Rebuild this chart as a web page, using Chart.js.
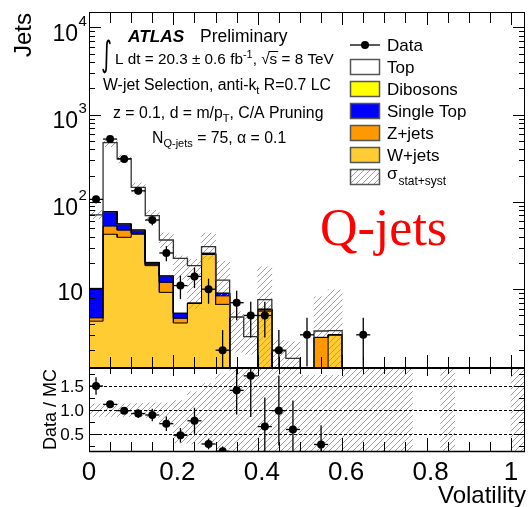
<!DOCTYPE html>
<html>
<head>
<meta charset="utf-8">
<script src="https://cdn.jsdelivr.net/npm/chart.js@4.4.1/dist/chart.umd.min.js"></script>
<style>
  html, body { margin: 0; padding: 0; background: #fff; }
  #wrap { position: relative; width: 529px; height: 507px; }
  #wrap canvas { position: absolute; left: 0; top: 0; }
</style>
</head>
<body>
<div id="wrap">
  <canvas id="ratioChart" width="529" height="507"></canvas>
  <canvas id="mainChart" width="529" height="507"></canvas>
</div>
<script>
// bins of width 1/30 on the Volatility axis
const binWidth = 1 / 30;
const nBins = 31;
const binNames = Array.from({ length: nBins }, (_, i) => 'bin' + i);

// data counts and their errors
const dataCounts = [107, 525, 311, 134, 62, 26, 11, 14, 10, 2, 7, 5, 5, 2, null, 3, null, null, null, 3,
  null, null, null, null, null, null, null, null, null, null, null];
const dataErr = [10.3, 22.9, 17.6, 11.6, 7.9, 5.1, 3.3, 3.7, 3.2, 1.4, 2.6, 2.2, 2.2, 1.4, null, 1.7, null, null, null, 1.7,
  null, null, null, null, null, null, null, null, null, null, null];

// MC components (stack order: W+jets at bottom)
const wJets = [4.3, 42.6, 39.3, 42.6, 18.6, 9.2, 4.1, 6.9, 25.0, 6.7, 0, 0, 5.6, 0, 0, 0, 0, 3.0, 0, 0,
  0, 0, 0, 0, 0, 0, 0, 0, 0, 0, 0];
const zJets = [0.4, 10.4, 8.3, 1.1, 0.7, 2.8, 0.55, 0, 0.3, 1.7, 0, 0, 0.2, 0, 0, 0, 2.8, 0, 0, 0,
  0, 0, 0, 0, 0, 0, 0, 0, 0, 0, 0];
const singleTop = [5.5, 24.0, 8.2, 3.9, 0.9, 2.2, 0.65, 0, 0.5, 0.6, 0, 0, 0.1, 0, 0, 0, 0, 0, 0, 0,
  0, 0, 0, 0, 0, 0, 0, 0, 0, 0, 0];
const dibosons = [0, 0.6, 0.4, 0.2, 0.1, 0, 0, 0, 0, 0, 0, 0, 0, 0, 0, 0, 0, 0, 0, 0,
  0, 0, 0, 0, 0, 0, 0, 0, 0, 0, 0];
const topQuark = [60.8, 400, 256, 99.2, 49.3, 22.4, 17.3, 11.7, 4.9, 3.7, 4.8, 2.86, 1.7, 1.96, 1.61, 0, 0.52, 0.35, 0.4, 0.3,
  0.5, 0.3, 0.3, 0, 0, 0.3, 0, 0, 0, 0, 0.2];

// stat+syst band on the total
const bandLo = [64, 430, 280, 130, 60, 30, 13, 6, 22, 7, 1.9, 1.8, 0.5, 0.5, 0.5, null, 0.5, 0.5, null, null,
  null, null, null, null, null, null, null, null, null, null, null];
const bandHi = [80, 530, 345, 165, 80, 44, 24, 22, 44, 21, 5.5, 4.8, 18, 2.6, 2.5, null, 8.2, 9.8, null, null,
  null, null, null, null, null, null, null, null, null, null, null];

// Data / MC panel
const ratioVals = [1.5, 1.12, 0.99, 0.93, 0.9, 0.72, 0.48, 0.78, 0.3, 0.15, 1.41, 1.71, 0.66, 0.99, 0.6, null, 0.29, null, null, null,
  null, null, null, null, null, null, null, null, null, null, null];
const ratioErr = [0.18, 0.06, 0.07, 0.09, 0.13, 0.15, 0.15, 0.27, 0.11, 0.1, 0.5, 0.85, 0.6, 0.72, 0.6, null, 0.4, null, null, null,
  null, null, null, null, null, null, null, null, null, null, null];
const ratioBandLo = [0.87, 0.87, 0.87, 0.86, 0.85, 0.68, 0.32, 0.3, 0.3, 0.2, 0.13, 0.13, 0.13, 0.13, 0.13, 0.13, 0.13, 0.13, 0.13, 0.13,
  0.13, 0.13, 0.13, null, null, 0.13, null, null, null, null, 0.13];
const ratioBandHi = [1.13, 1.13, 1.13, 1.14, 1.15, 1.15, 1.2, 1.38, 1.55, 1.75, 1.88, 1.88, 1.88, 1.88, 1.88, 1.72, 1.72, 1.72, 1.88, 1.88,
  1.88, 1.88, 1.88, null, null, 1.88, null, null, null, null, 1.88];

// axis ticks
const yMainExps = [1, 2, 3, 4];
const xTickLabels = ['0', '0.2', '0.4', '0.6', '0.8', '1'];
const ratioTickLabels = ['0.5', '1.0', '1.5'];

const FONT = '"Liberation Sans", Arial, Helvetica, sans-serif';
const FLOOR = 0.01;
const COL_W = '#ffcc33', COL_Z = '#ff9900', COL_ST = '#0000ff', COL_DIB = '#ffff00';

// cumulative stack levels
const cumW = wJets.slice();
const cumZ = cumW.map((v, i) => v + zJets[i]);
const cumST = cumZ.map((v, i) => v + singleTop[i]);
const cumDib = cumST.map((v, i) => v + dibosons[i]);
const cumTot = cumDib.map((v, i) => v + topQuark[i]);

function floating(lo, hi) {
  return hi.map((h, i) => (h > lo[i] ? [Math.max(lo[i], FLOOR), h] : null));
}
function stepPoints(levels) {
  const pts = [];
  levels.forEach((v, i) => {
    const y = v > 0 ? v : FLOOR;
    pts.push({ x: i * binWidth, y: y }, { x: (i + 1) * binWidth, y: y });
  });
  return pts;
}
function pointsWithErr(vals, errs) {
  const pts = [];
  vals.forEach((v, i) => {
    if (v != null) pts.push({ x: (i + 0.5) * binWidth, y: v, e: errs[i] });
  });
  return pts;
}
function makeHatch(canvas) {
  const c = document.createElement('canvas');
  c.width = 6; c.height = 6;
  const g = c.getContext('2d');
  g.strokeStyle = '#a0a0a0';
  g.lineWidth = 1;
  g.beginPath();
  g.moveTo(0, 6); g.lineTo(6, 0);
  g.moveTo(-1, 1); g.lineTo(1, -1);
  g.moveTo(5, 7); g.lineTo(7, 5);
  g.stroke();
  return canvas.getContext('2d').createPattern(c, 'repeat');
}

function line(ctx, x1, y1, x2, y2) {
  ctx.beginPath(); ctx.moveTo(x1, y1); ctx.lineTo(x2, y2); ctx.stroke();
}

function drawErrorBars(chart, ds) {
  const ctx = chart.ctx, a = chart.chartArea;
  const xs = chart.scales.xv, ys = chart.scales.y;
  ctx.save();
  ctx.beginPath();
  ctx.rect(a.left, a.top, a.right - a.left, a.bottom - a.top);
  ctx.clip();
  ctx.strokeStyle = '#000';
  ctx.lineWidth = 1.3;
  ds.data.forEach(p => {
    const px = xs.getPixelForValue(p.x);
    const py = ys.getPixelForValue(p.y);
    const lo = p.y - p.e;
    const yLo = lo > 0 ? ys.getPixelForValue(lo) : a.bottom + 10;
    const yHi = ys.getPixelForValue(p.y + p.e);
    line(ctx, px, yHi, px, yLo);
    line(ctx, xs.getPixelForValue(p.x - binWidth / 2), py, xs.getPixelForValue(p.x + binWidth / 2), py);
  });
  ctx.restore();
}

// draws ROOT style inner ticks on the x axis
function xTicks(ctx, chart, y0, dir, lenMajor, lenMinor) {
  const xs = chart.scales.xv;
  for (let k = 0; k <= 20; k++) {
    const px = Math.round(xs.getPixelForValue(k * 0.05)) + 0.5;
    line(ctx, px, y0, px, y0 + dir * (k % 4 === 0 ? lenMajor : lenMinor));
  }
}

function text(ctx, s, x, y, size, opts) {
  opts = opts || {};
  ctx.font = (opts.style || '') + ' ' + size + 'px ' + (opts.family || FONT);
  ctx.textAlign = opts.align || 'left';
  ctx.textBaseline = 'alphabetic';
  ctx.fillStyle = opts.color || '#000';
  ctx.fillText(s, x, y);
  return ctx.measureText(s).width;
}

// sequence of text runs: [string, size, dy, style]
function runs(ctx, x, y, parts) {
  parts.forEach(p => {
    x += text(ctx, p[0], x, y + (p[2] || 0), p[1], { style: p[3] || '', family: p[4] });
  });
  return x;
}

const mainDecor = {
  id: 'mainDecor',
  beforeDatasetDraw(chart, args) {
    const ds = chart.data.datasets[args.index];
    if (ds.withErr) drawErrorBars(chart, ds);
  },
  afterDraw(chart) {
    const ctx = chart.ctx, a = chart.chartArea, ys = chart.scales.y;
    ctx.save();
    ctx.strokeStyle = '#000';
    ctx.lineWidth = 1;
    // frame
    line(ctx, a.left + 0.5, a.top, a.left + 0.5, a.bottom);
    line(ctx, a.right - 0.5, a.top, a.right - 0.5, a.bottom);
    line(ctx, a.left, a.top + 0.5, a.right, a.top + 0.5);
    ctx.lineWidth = 2;
    line(ctx, a.left, a.bottom, a.right, a.bottom);
    ctx.lineWidth = 1;
    xTicks(ctx, chart, a.bottom, -1, 13, 11);
    xTicks(ctx, chart, a.top, 1, 13, 11);
    for (let d = 0; d <= 4; d++) {
      for (let m = 1; m <= 9; m++) {
        const v = m * Math.pow(10, d);
        if (v < ys.min || v > ys.max) continue;
        const py = Math.round(ys.getPixelForValue(v)) + 0.5;
        const len = m === 1 ? 12 : 6;
        line(ctx, a.left, py, a.left + len, py);
        line(ctx, a.right, py, a.right - len, py);
      }
    }
    // y labels
    yMainExps.forEach(n => {
      const py = ys.getPixelForValue(Math.pow(10, n));
      if (n === 1) {
        text(ctx, '10', 83, py + 11, 23, { align: 'right' });
      } else {
        text(ctx, '10', 78, py + 13.5, 23, { align: 'right' });
        text(ctx, String(n), 78.5, py - 1.5, 15);
      }
    });
    // y title
    ctx.save();
    ctx.translate(31, 13);
    ctx.rotate(-Math.PI / 2);
    text(ctx, 'Jets', 0, 0, 24, { align: 'right' });
    ctx.restore();

    // ATLAS label block
    runs(ctx, 128, 41.5, [['ATLAS', 17.3, 0, 'italic bold']]);
    text(ctx, 'Preliminary', 200, 41.5, 17.5);
    ctx.save();
    ctx.translate(101, 66);
    ctx.scale(0.8, 1.35);
    text(ctx, '\u222B', 0, 0, 26, { family: '"DejaVu Sans", sans-serif' });
    ctx.restore();
    let x = runs(ctx, 115, 63.5, [['L dt = 20.3 \u00B1 0.6 fb', 15.3], ['-1', 11, -6]]);
    x = runs(ctx, x, 63.5, [[', ', 15.3], ['\u221A', 15.3]]);
    const sx = x;
    x = runs(ctx, x, 63.5, [['s', 15.3]]);
    ctx.lineWidth = 1;
    line(ctx, sx - 1, 51.5, x + 1, 51.5);
    runs(ctx, x, 63.5, [[' = 8 TeV', 15.3]]);
    x = runs(ctx, 103, 90, [['W-jet Selection, anti-k', 15.8], ['t', 11, 4]]);
    runs(ctx, x, 90, [[' R=0.7 LC', 15.8]]);
    x = runs(ctx, 113, 118, [['z = 0.1, d = m/p', 15.8], ['T', 11, 4]]);
    runs(ctx, x, 118, [[', C/A Pruning', 15.8]]);
    x = runs(ctx, 152, 143, [['N', 15.8], ['Q-jets', 11, 4]]);
    runs(ctx, x, 143, [[' = 75, \u03B1 = 0.1', 15.8]]);

    // legend
    const bx = 350, bw = 30, bh = 16;
    const rows = [45, 67, 89, 111, 133, 155, 177];
    ctx.lineWidth = 1.3;
    line(ctx, bx, rows[0], bx + bw, rows[0]);
    ctx.fillStyle = '#000';
    ctx.beginPath(); ctx.arc(bx + bw / 2, rows[0], 4, 0, Math.PI * 2); ctx.fill();
    const fills = ['#ffffff', COL_DIB, COL_ST, COL_Z, COL_W, chart.hatch];
    fills.forEach((f, i) => {
      const cy = rows[i + 1];
      ctx.fillStyle = '#fff';
      ctx.fillRect(bx, cy - bh / 2, bw, bh);
      ctx.fillStyle = f;
      ctx.fillRect(bx, cy - bh / 2, bw, bh);
      ctx.strokeStyle = '#555';
      ctx.lineWidth = 1.5;
      ctx.strokeRect(bx + 0.5, cy - bh / 2 + 0.5, bw - 1, bh - 1);
    });
    ['Data', 'Top', 'Dibosons', 'Single Top', 'Z+jets', 'W+jets'].forEach((s, i) => {
      text(ctx, s, 387, rows[i] + 6, 17);
    });
    x = runs(ctx, 387, rows[6] + 2, [['\u03C3', 17]]);
    runs(ctx, x + 1, rows[6] + 8, [['stat+syst', 12]]);

    // Q-jets tag
    text(ctx, 'Q-jets', 320, 245, 52, { family: '"Liberation Serif", "Times New Roman", serif', color: '#ff0000' });
    ctx.restore();
  }
};

const ratioDecor = {
  id: 'ratioDecor',
  beforeDatasetDraw(chart, args) {
    const ds = chart.data.datasets[args.index];
    if (!ds.withErr) return;
    const ctx = chart.ctx, a = chart.chartArea, ys = chart.scales.y;
    ctx.save();
    ctx.strokeStyle = '#000';
    ctx.lineWidth = 1;
    ctx.setLineDash([3, 2]);
    [0.5, 1.0, 1.5].forEach(v => {
      const py = Math.round(ys.getPixelForValue(v)) + 0.5;
      line(ctx, a.left, py, a.right, py);
    });
    ctx.restore();
    drawErrorBars(chart, ds);
  },
  afterDraw(chart) {
    const ctx = chart.ctx, a = chart.chartArea, ys = chart.scales.y, xs = chart.scales.xv;
    ctx.save();
    ctx.strokeStyle = '#000';
    ctx.lineWidth = 1;
    line(ctx, a.left + 0.5, a.top, a.left + 0.5, a.bottom);
    line(ctx, a.right - 0.5, a.top, a.right - 0.5, a.bottom);
    ctx.lineWidth = 1.5;
    line(ctx, a.left, a.bottom - 0.5, a.right, a.bottom - 0.5);
    ctx.lineWidth = 1;
    xTicks(ctx, chart, a.bottom, -1, 14, 10);
    xTicks(ctx, chart, a.top, 1, 8, 6);
    for (let k = 1; k <= 7; k++) {
      const v = k * 0.25;
      const py = Math.round(ys.getPixelForValue(v)) + 0.5;
      const len = k % 2 === 0 ? 10 : 6;
      line(ctx, a.left, py, a.left + len, py);
      line(ctx, a.right, py, a.right - len, py);
    }
    ratioTickLabels.forEach(s => {
      text(ctx, s, 84, ys.getPixelForValue(parseFloat(s)) + 6, 17, { align: 'right' });
    });
    xTickLabels.forEach(s => {
      const px = xs.getPixelForValue(parseFloat(s)) + (s.length > 1 ? 4 : 0);
      text(ctx, s, px, 480, 26, { align: 'center' });
    });
    text(ctx, 'Volatility', 526, 503, 24, { align: 'right' });
    ctx.save();
    ctx.translate(56, 409.5);
    ctx.rotate(-Math.PI / 2);
    text(ctx, 'Data / MC', 0, 0, 18, { align: 'center' });
    ctx.restore();
    ctx.restore();
  }
};

function barSet(label, data, color, order) {
  return {
    label: label, data: data, backgroundColor: color, borderWidth: 0,
    barPercentage: 1, categoryPercentage: 1, grouped: false, order: order
  };
}
function stepSet(levels, color, width) {
  return {
    type: 'line', data: stepPoints(levels), xAxisID: 'xv', borderColor: color,
    borderWidth: width, pointRadius: 0, fill: false, tension: 0, order: 1
  };
}

const baseOptions = {
  responsive: false,
  animation: false,
  devicePixelRatio: 1,
  events: [],
  plugins: { legend: { display: false }, tooltip: { enabled: false } }
};

// main panel
const mainCanvas = document.getElementById('mainChart');
const hatch = makeHatch(mainCanvas);
const mainChart = new Chart(mainCanvas, {
  type: 'bar',
  data: {
    labels: binNames,
    datasets: [
      {
        type: 'scatter', label: 'Data', data: pointsWithErr(dataCounts, dataErr), withErr: true,
        xAxisID: 'xv', pointRadius: 4, pointBackgroundColor: '#000', pointBorderWidth: 0, order: 0
      },
      stepSet(cumTot, '#333', 1.3),
      stepSet(cumDib, '#000', 1),
      stepSet(cumST, '#000', 1),
      stepSet(cumZ, '#000', 1),
      stepSet(cumW, '#000', 1),
      barSet('band', floating(bandLo, bandHi), hatch, 2),
      barSet('Top', floating(cumDib, cumTot), '#ffffff', 3),
      barSet('Dibosons', floating(cumST, cumDib), COL_DIB, 4),
      barSet('Single Top', floating(cumZ, cumST), COL_ST, 5),
      barSet('Z+jets', floating(cumW, cumZ), COL_Z, 6),
      barSet('W+jets', floating(cumW.map(() => FLOOR), cumW), COL_W, 7)
    ]
  },
  options: Object.assign({}, baseOptions, {
    layout: { padding: { left: 89, right: 2, top: 12, bottom: 139 } },
    scales: {
      x: { type: 'category', offset: true, display: false, grid: { offset: true } },
      xv: { type: 'linear', min: 0, max: nBins * binWidth, offset: false, display: false, bounds: 'data' },
      y: { type: 'logarithmic', min: 1.25, max: 15000, display: false }
    }
  }),
  plugins: [mainDecor]
});
mainChart.hatch = hatch;
mainChart.draw();

// ratio panel
const ratioCanvas = document.getElementById('ratioChart');
const hatchR = makeHatch(ratioCanvas);
new Chart(ratioCanvas, {
  type: 'bar',
  data: {
    labels: binNames,
    datasets: [
      {
        type: 'scatter', label: 'Data / MC', data: pointsWithErr(ratioVals, ratioErr), withErr: true,
        xAxisID: 'xv', pointRadius: 4, pointBackgroundColor: '#000', pointBorderWidth: 0, order: 0
      },
      barSet('band', floating(ratioBandLo, ratioBandHi), hatchR, 2)
    ]
  },
  options: Object.assign({}, baseOptions, {
    layout: { padding: { left: 89, right: 2, top: 368, bottom: 55 } },
    scales: {
      x: { type: 'category', offset: true, display: false, grid: { offset: true } },
      xv: { type: 'linear', min: 0, max: nBins * binWidth, offset: false, display: false, bounds: 'data' },
      y: { type: 'linear', min: 0.134, max: 1.873, display: false, bounds: 'data' }
    }
  }),
  plugins: [ratioDecor]
});
</script>
</body>
</html>
